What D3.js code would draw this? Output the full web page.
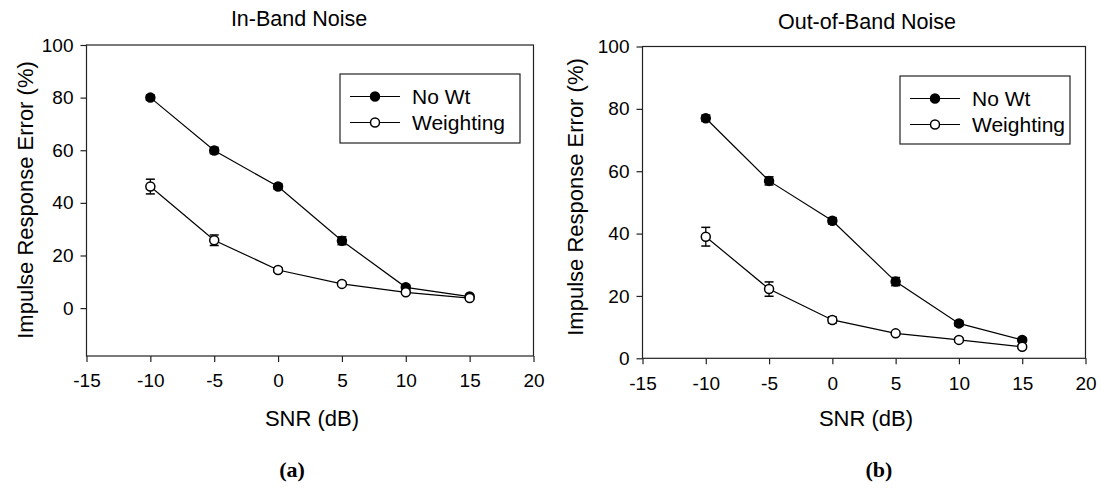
<!DOCTYPE html>
<html><head><meta charset="utf-8">
<script src="https://cdn.jsdelivr.net/npm/d3@7"></script>
<style>body{margin:0;background:#fff}svg{display:block}text{font-family:"Liberation Sans",Arial,sans-serif;fill:#000}</style>
</head><body>
<svg id="chart" width="1101" height="489"></svg>
<script>
const snr = [-10, -5, 0, 5, 10, 15];
const xTicks = [-15, -10, -5, 0, 5, 10, 15, 20];
const yTicks = [0, 20, 40, 60, 80, 100];
const seriesNames = ["No Wt", "Weighting"];

const inBandNoWt = [80.0, 59.9, 46.2, 25.6, 7.9, 4.4];
const inBandNoWtErr = [1.0, 1.2, 1.0, 1.5, 0.8, 0.5];
const inBandWt = [46.2, 25.8, 14.5, 9.2, 6.0, 3.8];
const inBandWtErr = [2.8, 2.0, 0.8, 0.6, 0.6, 0.6];

const outBandNoWt = [77.0, 56.9, 44.1, 24.6, 11.2, 5.9];
const outBandNoWtErr = [1.0, 1.3, 1.0, 1.3, 0.8, 0.6];
const outBandWt = [39.0, 22.2, 12.3, 8.0, 5.9, 3.7];
const outBandWtErr = [3.0, 2.3, 1.0, 0.6, 0.6, 0.6];

const svg = d3.select("#chart");

function panel(cfg) {
  const x = d3.scaleLinear().domain([-15, 20]).range([cfg.left, cfg.right]);
  const y = d3.scaleLinear().domain(cfg.yDomain).range([cfg.bottom, cfg.top]);
  const g = svg.append("g");

  // frame
  g.append("rect").attr("x", cfg.left).attr("y", cfg.top)
    .attr("width", cfg.right - cfg.left).attr("height", cfg.bottom - cfg.top)
    .attr("fill", "none").attr("stroke", "#222").attr("stroke-width", 1.2);

  const xAxis = g.append("g").attr("transform", `translate(0,${cfg.bottom})`)
    .call(d3.axisBottom(x).tickValues(xTicks).tickSize(6).tickPadding(12).tickFormat(d3.format("d")));
  const yAxis = g.append("g").attr("transform", `translate(${cfg.left},0)`)
    .call(d3.axisLeft(y).tickValues(yTicks).tickSize(6).tickPadding(7).tickFormat(d3.format("d")));
  [xAxis, yAxis].forEach(a => {
    a.select(".domain").remove();
    a.selectAll("line").attr("stroke", "#222").attr("stroke-width", 1.2);
    a.selectAll("text").style("font-family", '"Liberation Sans",Arial,sans-serif')
      .style("font-size", "19px").attr("fill", "#000");
  });
  xAxis.selectAll("text").text(d => d < 0 ? "-" + Math.abs(d) : d);

  const line = d3.line().x((d, i) => x(snr[i])).y(d => y(d));
  const series = [
    {v: cfg.noWt, e: cfg.noWtErr, fill: "#000"},
    {v: cfg.wt, e: cfg.wtErr, fill: "#fff"}
  ];
  series.forEach(s => {
    g.append("path").datum(s.v).attr("d", line).attr("fill", "none")
      .attr("stroke", "#000").attr("stroke-width", 1.2);
    const eb = g.append("g");
    s.v.forEach((v, i) => {
      const cx = x(snr[i]), y1 = y(v + s.e[i]), y2 = y(v - s.e[i]);
      eb.append("line").attr("x1", cx).attr("x2", cx).attr("y1", y1).attr("y2", y2)
        .attr("stroke", "#000").attr("stroke-width", 1.3);
      [y1, y2].forEach(yy => eb.append("line").attr("x1", cx - 4.5).attr("x2", cx + 4.5)
        .attr("y1", yy).attr("y2", yy).attr("stroke", "#000").attr("stroke-width", 1.5));
    });
    g.selectAll(null).data(s.v).enter().append("circle")
      .attr("cx", (d, i) => x(snr[i])).attr("cy", d => y(d)).attr("r", 4.5)
      .attr("fill", s.fill).attr("stroke", "#000").attr("stroke-width", 1.5);
  });

  // legend
  const L = cfg.legend;
  g.append("rect").attr("x", L.x).attr("y", L.y).attr("width", L.w).attr("height", L.h)
    .attr("fill", "#fff").attr("stroke", "#222").attr("stroke-width", 1.2);
  seriesNames.forEach((name, i) => {
    const ry = L.y + 22.5 + i * 26;
    g.append("line").attr("x1", L.x + 10).attr("x2", L.x + 60).attr("y1", ry).attr("y2", ry)
      .attr("stroke", "#000").attr("stroke-width", 1.2);
    g.append("circle").attr("cx", L.x + 35).attr("cy", ry).attr("r", 4.5)
      .attr("fill", series[i].fill).attr("stroke", "#000").attr("stroke-width", 1.5);
    g.append("text").attr("x", L.x + 72).attr("y", ry + 7.5).style("font-size", "21px").text(name);
  });

  // titles
  g.append("text").attr("x", cfg.titleX).attr("y", cfg.titleY).attr("text-anchor", "middle")
    .style("font-size", "21.5px").text(cfg.title);
  g.append("text").attr("x", (cfg.left + cfg.right) / 2 + 2).attr("y", 426)
    .attr("text-anchor", "middle").style("font-size", "22px").text("SNR (dB)");
  g.append("text").attr("transform", `translate(${cfg.yTitleX},${cfg.yTitleY}) rotate(-90)`)
    .attr("text-anchor", "middle").style("font-size", "22px").text("Impulse Response Error (%)");
  g.append("text").attr("x", cfg.tagX).attr("y", 477).attr("text-anchor", "middle")
    .style("font-family", '"Liberation Serif","Times New Roman",serif')
    .style("font-weight", "bold").style("font-size", "22px").text(cfg.tag);
}

panel({
  left: 86.5, right: 533.5, top: 45, bottom: 356, yDomain: [-18.2, 100],
  noWt: inBandNoWt, noWtErr: inBandNoWtErr, wt: inBandWt, wtErr: inBandWtErr,
  legend: {x: 340, y: 74, w: 180, h: 69},
  title: "In-Band Noise", titleX: 299, titleY: 26,
  yTitleX: 33, yTitleY: 200, tag: "(a)", tagX: 292
});
panel({
  left: 642.5, right: 1085.5, top: 46.5, bottom: 358.3, yDomain: [0, 100],
  noWt: outBandNoWt, noWtErr: outBandNoWtErr, wt: outBandWt, wtErr: outBandWtErr,
  legend: {x: 900, y: 76, w: 170, h: 68},
  title: "Out-of-Band Noise", titleX: 867, titleY: 29,
  yTitleX: 583, yTitleY: 197, tag: "(b)", tagX: 879
});
</script>
</body></html>
